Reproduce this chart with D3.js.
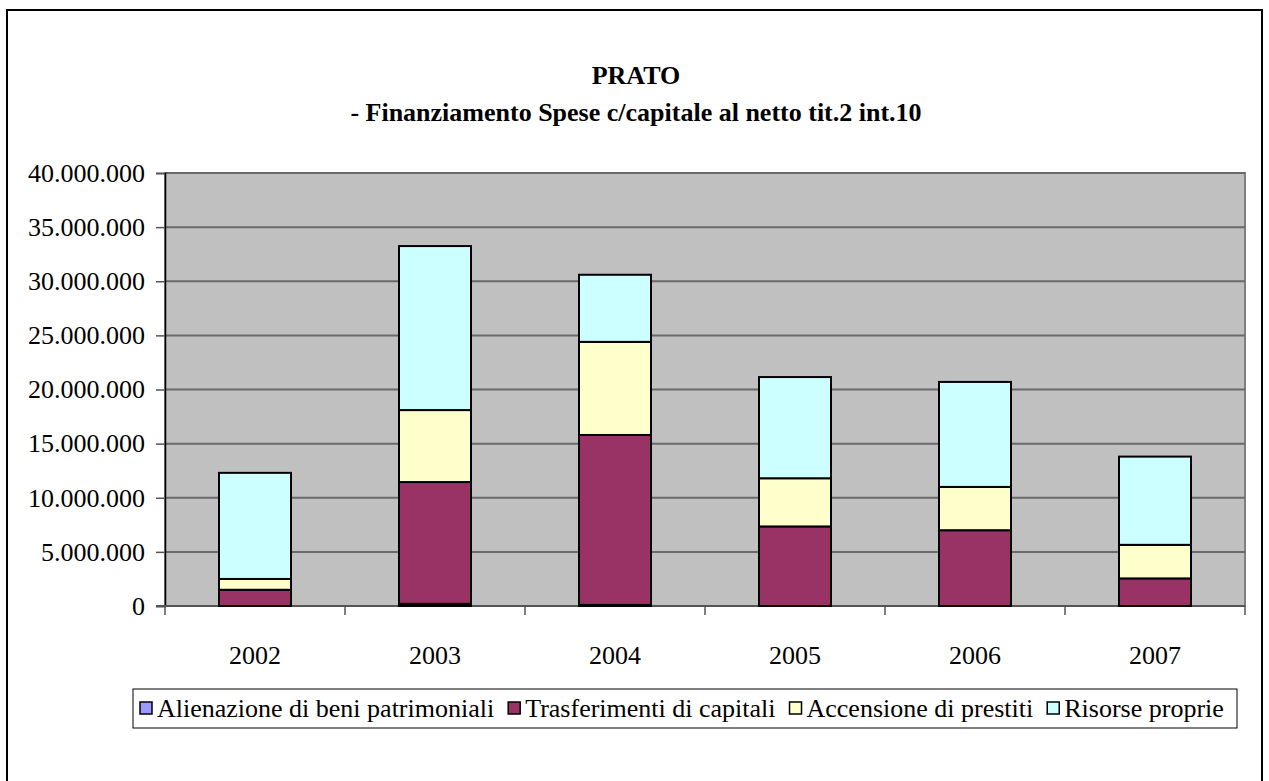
<!DOCTYPE html>
<html>
<head>
<meta charset="utf-8">
<script src="https://cdn.jsdelivr.net/npm/d3@7"></script>
<style>
  body { margin: 0; background: #fff; }
  text { font-family: "Liberation Serif", "Times New Roman", serif; fill: #000; }
</style>
</head>
<body>
<div id="chart"></div>
<script>
var years = ["2002", "2003", "2004", "2005", "2006", "2007"];
var seriesNames = ["Alienazione di beni patrimoniali", "Trasferimenti di capitali", "Accensione di prestiti", "Risorse proprie"];
var seriesColors = ["#9999FF", "#993366", "#FFFFCC", "#CCFFFF"];
var alienazione = [0, 200000, 100000, 0, 0, 0];
var trasferimenti = [1500000, 11250000, 15700000, 7350000, 7000000, 2550000];
var accensione = [1000000, 6650000, 8600000, 4450000, 4000000, 3100000];
var risorse = [9800000, 15150000, 6200000, 9350000, 9700000, 8150000];
var yTicks = [0, 5000000, 10000000, 15000000, 20000000, 25000000, 30000000, 35000000, 40000000];

var width = 1269, height = 781;
var margin = {left: 165, right: 24, top: 173, bottom: 175};
var fontSize = 26;

var svg = d3.select("#chart").append("svg")
    .attr("width", width)
    .attr("height", height);

// outer chart border (runs off the bottom of the page)
svg.append("rect")
    .attr("x", 7).attr("y", 10)
    .attr("width", 1255).attr("height", 800)
    .attr("fill", "#fff")
    .attr("stroke", "#000")
    .attr("stroke-width", 2);

var title = svg.append("text")
    .attr("text-anchor", "middle")
    .attr("font-weight", "bold")
    .attr("font-size", fontSize);
title.append("tspan").attr("x", 636).attr("y", 84).text("PRATO");
title.append("tspan").attr("x", 636).attr("y", 121).text("- Finanziamento Spese c/capitale al netto tit.2 int.10");

var x = d3.scaleBand()
    .domain(years)
    .range([margin.left, width - margin.right])
    .paddingInner(0.6)
    .paddingOuter(0.3);

var y = d3.scaleLinear()
    .domain([0, 40000000])
    .range([height - margin.bottom, margin.top]);

// plot area
svg.append("rect")
    .attr("x", margin.left).attr("y", y(40000000))
    .attr("width", width - margin.right - margin.left)
    .attr("height", y(0) - y(40000000))
    .attr("fill", "#C0C0C0")
    .attr("stroke", "#808080")
    .attr("stroke-width", 2);

svg.append("g").selectAll("line")
  .data(yTicks.slice(1))
  .enter().append("line")
    .attr("x1", margin.left).attr("x2", width - margin.right)
    .attr("y1", y).attr("y2", y)
    .attr("stroke", "#6a6a6a")
    .attr("stroke-width", 2);

var fmt = function(d) { return d3.format(",")(d).replace(/,/g, "."); };

var yAxis = svg.append("g")
    .attr("transform", "translate(" + margin.left + ",0)")
    .call(d3.axisLeft(y).tickValues(yTicks).tickFormat(fmt).tickSize(9).tickPadding(11));
yAxis.select(".domain").attr("stroke", "#000").attr("stroke-width", 1.5);
yAxis.selectAll(".tick line").attr("stroke", "#555").attr("stroke-width", 1.5);
yAxis.selectAll("text").attr("font-size", fontSize).attr("font-family", "Liberation Serif").attr("fill", "#000");

// x axis with ticks between categories
var xEdges = d3.range(years.length + 1).map(function(i) {
  return margin.left + i * (width - margin.right - margin.left) / years.length;
});
svg.append("line")
    .attr("x1", margin.left - 9).attr("x2", width - margin.right)
    .attr("y1", y(0)).attr("y2", y(0))
    .attr("stroke", "#555").attr("stroke-width", 2);
svg.append("g").selectAll("line")
  .data(xEdges)
  .enter().append("line")
    .attr("x1", function(d) { return d; }).attr("x2", function(d) { return d; })
    .attr("y1", y(0)).attr("y2", y(0) + 9)
    .attr("stroke", "#555").attr("stroke-width", 1.5);
svg.append("g").selectAll("text")
  .data(years)
  .enter().append("text")
    .attr("x", function(d) { return x(d) + x.bandwidth() / 2; })
    .attr("y", y(0) + 58)
    .attr("text-anchor", "middle")
    .attr("font-size", fontSize)
    .text(function(d) { return d; });

// stacked bars
var table = years.map(function(yr, i) {
  return {year: yr, a: alienazione[i], t: trasferimenti[i], c: accensione[i], r: risorse[i]};
});
var stack = d3.stack().keys(["a", "t", "c", "r"]);
var layers = stack(table);

svg.append("g").selectAll("g")
  .data(layers)
  .enter().append("g")
    .attr("fill", function(d, i) { return seriesColors[i]; })
  .selectAll("rect")
  .data(function(d) { return d.filter(function(p) { return p[1] > p[0]; }); })
  .enter().append("rect")
    .attr("x", function(d) { return x(d.data.year); })
    .attr("width", x.bandwidth())
    .attr("y", function(d) { return y(d[1]); })
    .attr("height", function(d) { return y(d[0]) - y(d[1]); })
    .attr("stroke", "#000")
    .attr("stroke-width", 2);

// legend
var legend = svg.append("g");
legend.append("rect")
    .attr("x", 133).attr("y", 689)
    .attr("width", 1104).attr("height", 39)
    .attr("fill", "#fff")
    .attr("stroke", "#000")
    .attr("stroke-width", 1);

var lx = 140;
seriesNames.forEach(function(name, i) {
  legend.append("rect")
      .attr("x", lx).attr("y", 702)
      .attr("width", 12).attr("height", 12)
      .attr("fill", seriesColors[i])
      .attr("stroke", "#000")
      .attr("stroke-width", 1.5);
  var t = legend.append("text")
      .attr("x", lx + 17).attr("y", 717)
      .attr("font-size", fontSize)
      .text(name);
  lx += 17 + t.node().getComputedTextLength() + 14;
});
</script>
</body>
</html>
